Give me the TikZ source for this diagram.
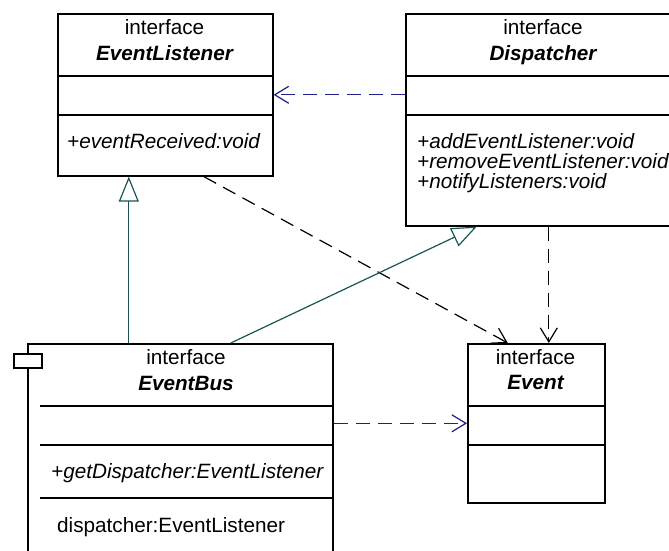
\documentclass[tikz,border=0pt]{standalone}
\usepackage{fontspec}
\setmainfont{Liberation Sans}
\usetikzlibrary{arrows.meta}
\definecolor{genteal}{RGB}{25,85,85}
\definecolor{depnavy}{RGB}{30,30,140}
\newcommand{\umlfont}{\fontsize{20.7}{20}\selectfont}

\tikzset{
  box/.style={draw, line width=1.6pt, fill=white, anchor=north west, inner sep=0pt},
  sep/.style={line width=1.6pt},
  txt/.style={inner sep=0pt, anchor=base, font=\umlfont},
  mtd/.style={inner sep=0pt, anchor=base west, font=\umlfont\itshape},
  gen/.style={draw=genteal, line width=1.2pt, -{Triangle[open,length=25pt,width=20pt]}},
  dep/.style={line width=1.2pt, dash pattern=on 14pt off 8pt, -{Straight Barb[length=14pt,width=17pt]}},
}

\begin{document}
\begin{tikzpicture}[x=1pt, y=-1pt]
    \useasboundingbox (0,0) rectangle (669,551);
    \clip (0,0) rectangle (669,551);
    % EventListener
    \node[box, minimum width=215pt, minimum height=162pt] (listener) at (57,13) {};
    \draw[sep] (57,76) -- (272,76);
    \draw[sep] (57,115) -- (272,115);
    \node[txt] (listenerst) at (164.5,35) {interface};
    \node[txt] (listenername) at (164.5,60) {\bfseries\itshape EventListener};
    \node[mtd] (listenerm) at (67,148) {+eventReceived:void};
    % Dispatcher
    \node[box, minimum width=276pt, minimum height=212pt] (dispatcher) at (405,13) {};
    \draw[sep] (405,76) -- (681,76);
    \draw[sep] (405,115) -- (681,115);
    \node[txt] (dispatcherst) at (543,35) {interface};
    \node[txt] (dispatchername) at (543,60) {\bfseries\itshape Dispatcher};
    \node[mtd] (dispatcherma) at (417,148) {+addEventListener:void};
    \node[mtd] (dispatchermb) at (417,168) {+removeEventListener:void};
    \node[mtd] (dispatchermc) at (417,188) {+notifyListeners:void};
    % EventBus
    \node[box, minimum width=305pt, minimum height=260pt] (bus) at (27,343) {};
    \node[box, minimum width=28pt, minimum height=14pt] (bustab) at (13,353) {};
    \draw[sep] (40,406) -- (332,406);
    \draw[sep] (40,445) -- (332,445);
    \draw[sep] (40,498) -- (332,498);
    \node[txt] (busst) at (186,364) {interface};
    \node[txt] (busname) at (186,390) {\bfseries\itshape EventBus};
    \node[mtd] (busm) at (51,478) {+getDispatcher:EventListener};
    \node[txt, anchor=base west] (busattr) at (57,532) {dispatcher:EventListener};
    % Event
    \node[box, minimum width=137pt, minimum height=159pt] (event) at (467,343) {};
    \draw[sep] (467,406) -- (604,406);
    \draw[sep] (467,445) -- (604,445);
    \node[txt] (eventst) at (535.5,364) {interface};
    \node[txt] (eventname) at (535.5,389) {\bfseries\itshape Event};
    % dependencies
    \draw[dep, draw=depnavy] (dispatcher.west |- listener.east) -- (listener.east);
    \draw[dep] ([xshift=38.5pt]listener.south) -- ([xshift=-28.5pt]event.north);
    \draw[dep] ([xshift=5pt]dispatcher.south) -- ([xshift=12.5pt]event.north);
    \draw[dep, draw=depnavy] (bus.east |- event.west) -- (event.west);
    % generalizations
    \draw[gen] ([xshift=-51.5pt]bus.north) -- ([xshift=-36.5pt]listener.south);
    \draw[gen] ([xshift=50.5pt]bus.north) -- ([xshift=-67pt]dispatcher.south);
\end{tikzpicture}
\end{document}
